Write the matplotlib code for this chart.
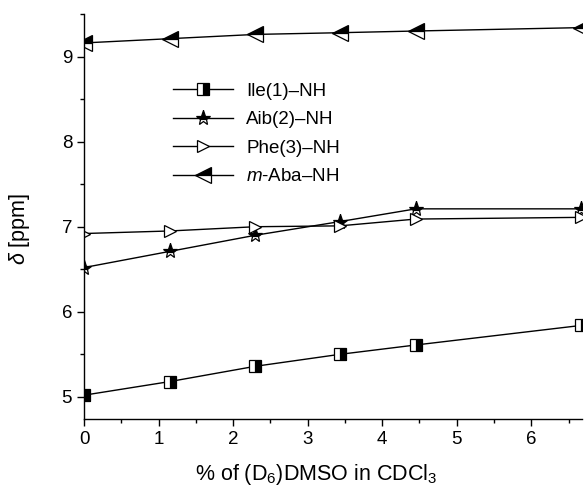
import matplotlib
matplotlib.use("Agg")
import matplotlib.pyplot as plt
from matplotlib.ticker import MultipleLocator

plt.rcParams['font.family'] = ['Liberation Sans', 'DejaVu Sans']
plt.rcParams['mathtext.fontset'] = 'custom'
plt.rcParams['mathtext.rm'] = 'Liberation Sans'
plt.rcParams['mathtext.it'] = 'Liberation Sans:italic'

dmso = [0, 1.15, 2.3, 3.43, 4.45, 6.67]
ile = [5.02, 5.18, 5.36, 5.50, 5.61, 5.84]
aib = [6.52, 6.71, 6.90, 7.06, 7.21, 7.21]
phe = [6.92, 6.95, 7.00, 7.01, 7.09, 7.11]
aba = [9.16, 9.21, 9.26, 9.28, 9.30, 9.34]
labels = ['Ile(1)–NH', 'Aib(2)–NH', 'Phe(3)–NH', r'$\it{m}$-Aba–NH']

fig = plt.figure(figsize=(5.85, 4.91), dpi=100)
ax = fig.add_axes([0.1436, 0.1466, 0.8513, 0.8249])

common = dict(color='black', lw=1.0, markeredgecolor='black', markeredgewidth=0.9)
ax.plot(dmso, ile, marker='s', ms=8.5, fillstyle='right', markerfacecolor='black',
        markerfacecoloralt='white', label=labels[0], **common)
ax.plot(dmso, aib, marker='*', ms=11, fillstyle='top', markerfacecolor='black',
        markerfacecoloralt='white', label=labels[1], **common)
ax.plot(dmso, phe, marker='>', ms=9, markerfacecolor='white', label=labels[2], **common)
ax.plot(dmso, aba, marker='<', ms=11, fillstyle='top', markerfacecolor='black',
        markerfacecoloralt='white', label=labels[3], **common)

ax.set_xlim(0, 6.68)
ax.set_ylim(4.74, 9.5)
ax.xaxis.set_major_locator(MultipleLocator(1))
ax.xaxis.set_minor_locator(MultipleLocator(0.5))
ax.yaxis.set_major_locator(MultipleLocator(1))
ax.yaxis.set_minor_locator(MultipleLocator(0.5))
ax.spines['top'].set_visible(False)
ax.spines['right'].set_visible(False)
for s in ('left', 'bottom'):
    ax.spines[s].set_linewidth(1.0)
ax.tick_params(which='major', direction='out', length=5, width=1.0, labelsize=13.5)
ax.tick_params(which='minor', direction='out', length=3, width=1.0)

ax.set_xlabel('% of (D$_6$)DMSO in CDCl$_3$', fontsize=15.5, labelpad=10)
ax.xaxis.set_label_coords(0.466, -0.105)
ax.set_ylabel(r'$\it{\delta}$ [ppm]', fontsize=15.5)
ax.yaxis.set_label_coords(-0.104, 0.469)

ax.legend(loc='upper left', bbox_to_anchor=(0.179, 0.83), frameon=False, fontsize=13.5,
          handlelength=3.2, labelspacing=0.6, handletextpad=0.7,
          borderpad=0, borderaxespad=0)

fig.savefig('out.png', dpi=100)
